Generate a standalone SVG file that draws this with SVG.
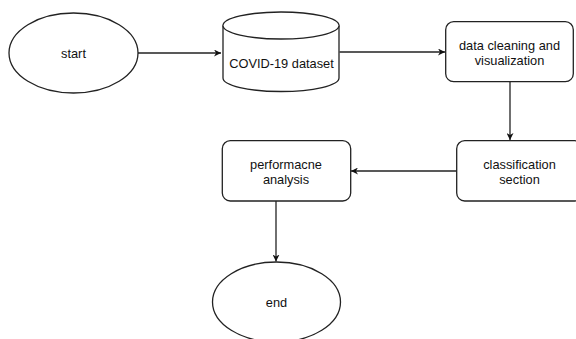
<svg xmlns="http://www.w3.org/2000/svg" width="576" height="339" viewBox="0 0 576 339">
  <defs>
    <marker id="arrow" viewBox="0 0 10 10" refX="10" refY="5" markerWidth="7" markerHeight="7" markerUnits="userSpaceOnUse" orient="auto">
      <path d="M0,0 L10,5 L0,10 L3,5 Z" fill="#111"/>
    </marker>
    <style>
      .shape { fill: #fff; stroke: #222; stroke-width: 1.3; }
      .edge { fill: none; stroke: #222; stroke-width: 1.3; marker-end: url(#arrow); }
      .label { font-family: "Liberation Sans", Arial, sans-serif; font-size: 12.8px; fill: #111; text-anchor: middle; }
    </style>
  </defs>
  <rect width="576" height="339" fill="#fff"/>

  <g id="connectors">
    <path class="edge" d="M138,53 L221,53"/>
    <path class="edge" d="M339.5,52 L445,52"/>
    <path class="edge" d="M510,82 L510,140"/>
    <path class="edge" d="M457,171 L351,171"/>
    <path class="edge" d="M276,201 L276,261.5"/>
  </g>

  <g id="start">
    <ellipse class="shape" cx="73.5" cy="53" rx="64.5" ry="40"/>
    <text class="label" x="73.5" y="57.5">start</text>
  </g>

  <g id="dataset">
    <path class="shape" d="M223,25.5 A58,13.5 0 0 1 339,25.5 L339,78 A58,13.5 0 0 1 223,78 Z"/>
    <path class="shape" fill="none" d="M223,25.5 A58,13.5 0 0 0 339,25.5"/>
    <text class="label" x="281.5" y="67.5">COVID-19 dataset</text>
  </g>

  <g id="cleaning">
    <rect class="shape" x="445.7" y="21.7" width="127.6" height="60" rx="8"/>
    <text class="label" x="509.5" y="49.5">data cleaning and</text>
    <text class="label" x="509.5" y="64.5">visualization</text>
  </g>

  <g id="classification">
    <rect class="shape" x="456.7" y="140.7" width="126" height="60.3" rx="8"/>
    <text class="label" x="519.5" y="168.5">classification</text>
    <text class="label" x="519.5" y="183.5">section</text>
  </g>

  <g id="performance">
    <rect class="shape" x="222.3" y="140.7" width="128.4" height="60.3" rx="8"/>
    <text class="label" x="286" y="168.5">performacne</text>
    <text class="label" x="286" y="183.5">analysis</text>
  </g>

  <g id="end">
    <ellipse class="shape" cx="276.5" cy="302" rx="64" ry="40"/>
    <text class="label" x="276.5" y="306.5">end</text>
  </g>
</svg>
